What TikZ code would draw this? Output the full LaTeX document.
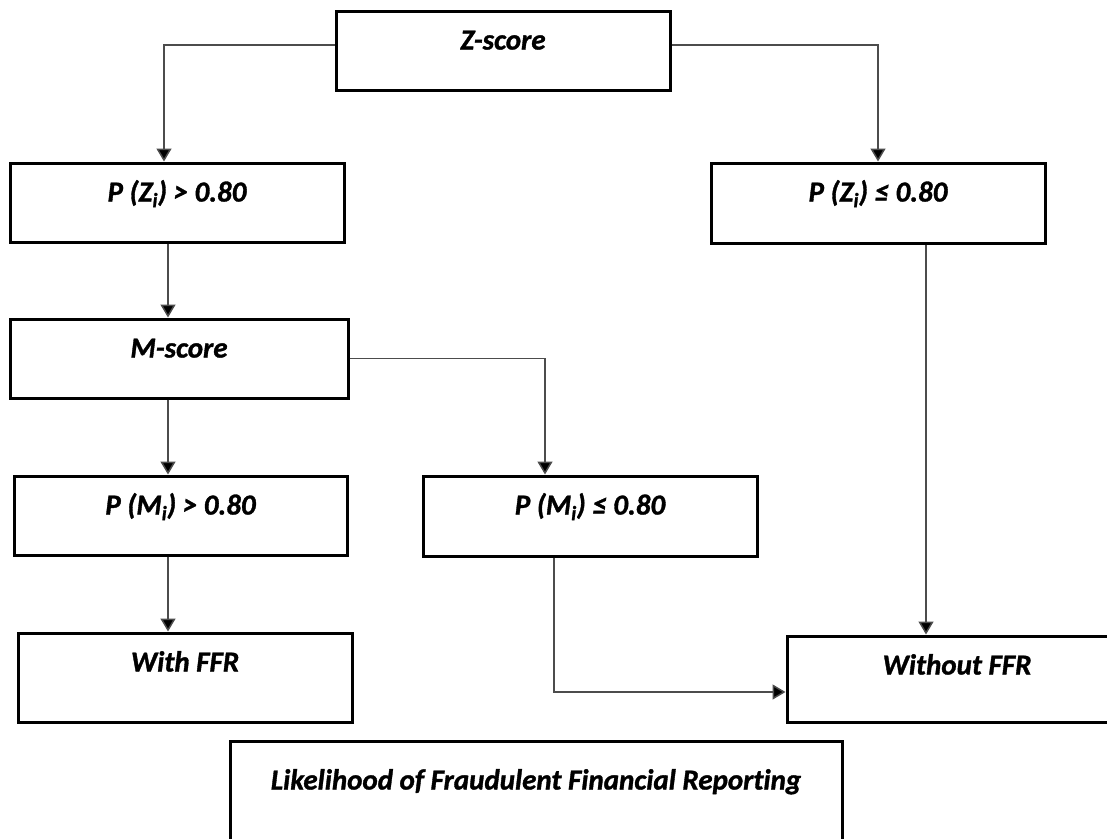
\documentclass[tikz,border=0pt]{standalone}
\usepackage{fontspec}
\setmainfont{Carlito}[Ligatures={NoCommon},BoldItalicFeatures={FakeBold=1.2}]
\usetikzlibrary{arrows.meta,calc}
\tikzset{
  box/.style={draw=black,line width=3pt,rectangle,inner sep=0pt,fill=white},
  txt/.style={anchor=base,inner sep=0pt,font=\fontsize{29}{34}\selectfont\bfseries\itshape},
  conn/.style={draw=black!70,line width=1.5pt,-{Triangle[length=13pt,width=15pt,fill=black]}},
}
\begin{document}
\begin{tikzpicture}[x=1pt,y=-1pt]
\useasboundingbox (0,0) rectangle (1107,838);
\fill[white] (0,0) rectangle (1107,838);
% boxes
\node[box,minimum width=334pt,minimum height=79pt] (z) at (503,50.5) {};
\node[box,minimum width=334pt,minimum height=79pt] (pz1) at (177,202.5) {};
\node[box,minimum width=334pt,minimum height=80pt] (pz2) at (878,203) {};
\node[box,minimum width=338pt,minimum height=79pt] (m) at (179,358.5) {};
\node[box,minimum width=333pt,minimum height=79pt] (pm1) at (180.5,515.5) {};
\node[box,minimum width=334pt,minimum height=80pt] (pm2) at (590,516) {};
\node[box,minimum width=334pt,minimum height=89pt] (wf) at (185,677.5) {};
\node[box,minimum width=340pt,minimum height=86pt] (wof) at (957,679) {};
\node[box,minimum width=612pt,minimum height=120pt] (lk) at (536,801) {};
% texts
\node[txt] (tz) at ($(z.north)+(0,40)$) {Z-score};
\node[txt] (tpz1) at ($(pz1.north)+(0,40)$) {P (Z\textsubscript{i}) > 0.80};
\node[txt] (tpz2) at ($(pz2.north)+(0,40)$) {P (Z\textsubscript{i}) ≤ 0.80};
\node[txt] (tm) at ($(m.north)+(0,40)$) {M-score};
\node[txt] (tpm1) at ($(pm1.north)+(0,40)$) {P (M\textsubscript{i}) > 0.80};
\node[txt] (tpm2) at ($(pm2.north)+(0,40)$) {P (M\textsubscript{i}) ≤ 0.80};
\node[txt] (twf) at ($(wf.north)+(0,40)$) {With FFR};
\node[txt] (twof) at ($(wof.north)+(0,40)$) {Without FFR};
\node[txt] (tlk) at ($(lk.north)+(0,50)$) {Likelihood of Fraudulent Financial Reporting};
% connectors
\draw[conn] ([yshift=5.5pt]z.west) -| ([xshift=-13pt]pz1.north);
\draw[conn] ([yshift=5.5pt]z.east) -| (pz2.north);
\draw[conn] ([xshift=-9pt]pz1.south) -- ([xshift=-9pt]pz1.south |- m.north);
\draw[conn] ([xshift=-11pt]m.south) -- ([xshift=-11pt]m.south |- pm1.north);
\draw[conn] (m.east) -| ([xshift=-45pt]pm2.north);
\draw[conn] ([xshift=-12.5pt]pm1.south) -- ([xshift=-12.5pt]pm1.south |- wf.north);
\draw[conn] ([xshift=-36pt]pm2.south) |- ([yshift=-13pt]wof.west);
\draw[conn] ([xshift=48pt]pz2.south) -- ([xshift=48pt]pz2.south |- wof.north);
\end{tikzpicture}
\end{document}
